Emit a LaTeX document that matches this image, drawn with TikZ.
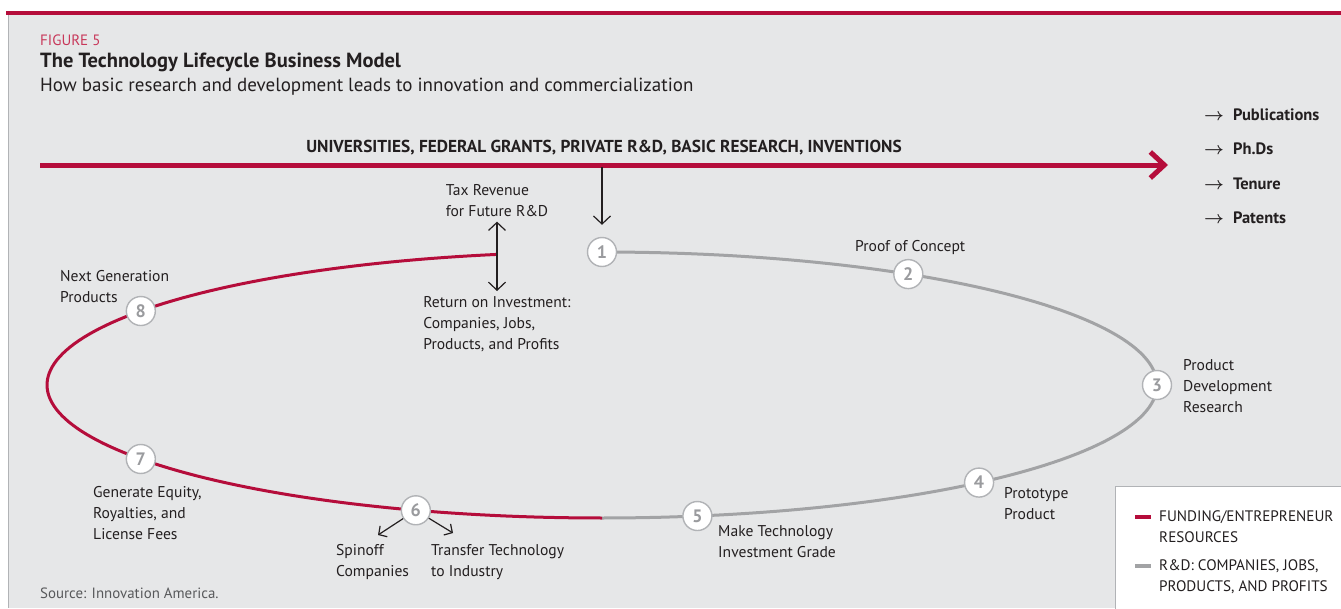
\documentclass[tikz,border=0pt]{standalone}
\usepackage{bm}
\usepackage{fontspec}
\setmainfont{PT Sans}
\usetikzlibrary{arrows.meta, positioning}

\definecolor{bandred}{HTML}{B50D3B}
\definecolor{figred}{HTML}{C8385A}
\definecolor{panel}{HTML}{E6E7E8}
\definecolor{rimgray}{HTML}{B1B3B6}
\definecolor{loopgray}{HTML}{A2A3A5}
\definecolor{numgray}{HTML}{9A9B9E}
\definecolor{ink}{HTML}{231F20}
\definecolor{srcgray}{HTML}{58595B}

\begin{document}
\begin{tikzpicture}[x=1pt, y=-1pt,
    num/.style={draw=rimgray, line width=1.4pt, fill=white, circle, minimum size=29pt, inner sep=0pt, text=numgray, font=\fontsize{18}{18}\selectfont\bfseries},
    lbl/.style={anchor=north west, align=left, inner sep=0pt, text=ink, font=\fontsize{15.6}{21}\selectfont},
    lst/.style={anchor=west, inner sep=0pt, text=ink, font=\fontsize{16.5}{16.5}\selectfont\bfseries},
    leg/.style={anchor=north west, align=left, inner sep=0pt, text=ink, font=\fontsize{15.2}{21}\selectfont},
    ptr/.style={draw=ink, line width=1.2pt, -{Straight Barb[length=8pt, width=17pt]}}]
        \useasboundingbox (0,0) rectangle (1341,608);
        % panel
        \fill[panel] (8,15) rectangle (1341,608);
        \draw[rimgray, line width=1pt] (8,15) -- (8,608);
        \draw[bandred, line width=4pt] (6,13) -- (1341,13);

        % heading
        \node[anchor=west, inner sep=0pt, text=figred, font=\fontsize{15}{15}\selectfont] (fig) at (40,40) {FIGURE 5};
        \node[anchor=west, inner sep=0pt, text=ink, font=\fontsize{20.5}{20.5}\selectfont\bfseries] (title) at (40,62) {The Technology Lifecycle Business Model};
        \node[anchor=west, inner sep=0pt, text=ink, font=\fontsize{19}{19}\selectfont] (sub) at (40,87) {How basic research and development leads to innovation and commercialization};

        % research band
        \node[inner sep=0pt, text=ink, font=\fontsize{17.3}{17.3}\selectfont\bfseries] (univ) at (604,148) {UNIVERSITIES, FEDERAL GRANTS, PRIVATE R\&D, BASIC RESEARCH, INVENTIONS};
        \coordinate (bandstart) at (40,165);
        \coordinate (bandend) at (1168,165);
        \coordinate (drop) at (602,167);
        \draw[bandred, line width=5pt, -{Straight Barb[length=14pt, width=26pt]}] (bandstart) -- (bandend);

        \node[lst] (pub) at (1204,115) {$\bm{\rightarrow}$\hspace{9pt}Publications};
        \node[lst] (phd) at (1204,149) {$\bm{\rightarrow}$\hspace{9pt}Ph.Ds};
        \node[lst] (ten) at (1204,184) {$\bm{\rightarrow}$\hspace{9pt}Tenure};
        \node[lst] (pat) at (1204,218) {$\bm{\rightarrow}$\hspace{9pt}Patents};

        % the loop
        \draw[loopgray, line width=3pt] plot[domain=-90:90, samples=120] ({602+555*cos(\x)},{385-133*sin(\x)});
        \draw[bandred, line width=3pt] plot[domain=100.9:270, samples=120] ({602+555*cos(\x)},{385-133*sin(\x)});

        \node[num] (one) at ({602+555*cos(90)},{385-133*sin(90)}) {1};
        \node[num] (two) at ({602+555*cos(56.5)},{385-133*sin(56.5)}) {2};
        \node[num] (three) at ({602+555*cos(0)},{385-133*sin(0)}) {3};
        \node[num] (four) at ({602+555*cos(-47.2)},{385-133*sin(-47.2)}) {4};
        \node[num] (five) at ({602+555*cos(-80.1)},{385-133*sin(-80.1)}) {5};
        \node[num] (six) at ({602+555*cos(-109.6)},{385-133*sin(-109.6)}) {6};
        \node[num] (seven) at ({602+555*cos(-146.2)},{385-133*sin(-146.2)}) {7};
        \node[num] (eight) at ({602+555*cos(146.2)},{385-133*sin(146.2)}) {8};

        % labels
        \node[lbl, anchor=north] (tax) at (497,184) {Tax Revenue\\for Future R\&D};
        \node[lbl, anchor=north] (ret) at (497,296) {Return on Investment:\\Companies, Jobs,\\Products, and Profits};
        \node[lbl] (proof) at (855,240) {Proof of Concept};
        \node[lbl] (pdr) at (1183,359) {Product\\Development\\Research};
        \node[lbl] (proto) at (1004,487) {Prototype\\Product};
        \node[lbl] (grade) at (718,525) {Make Technology\\Investment Grade};
        \node[lbl] (spin) at (336,544) {Spinoff\\Companies};
        \node[lbl] (transfer) at (431,544) {Transfer Technology\\to Industry};
        \node[lbl] (equity) at (93,486) {Generate Equity,\\Royalties, and\\License Fees};
        \node[lbl] (next) at (60,270) {Next Generation\\Products};

        \coordinate (spinend) at (378,535);
        \coordinate (transend) at (453,533);
        \draw[ptr, shorten >=12pt] (drop) -- (one);
        \draw[ptr, {Straight Barb[length=8pt, width=17pt]}-{Straight Barb[length=8pt, width=17pt]}, shorten <=5pt, shorten >=5pt] (tax.south) -- (ret.north);
        \draw[ptr, -{Straight Barb[length=6pt, width=13pt]}] (six) -- (spinend);
        \draw[ptr, -{Straight Barb[length=6pt, width=13pt]}] (six) -- (transend);

        \node[anchor=west, inner sep=0pt, text=srcgray, font=\fontsize{14.9}{14.9}\selectfont] (src) at (40,593) {Source: Innovation America.};

        % legend
        \node[draw=rimgray, line width=1.2pt, fill=white, anchor=north west, minimum width=240pt, minimum height=130pt, inner sep=0pt] (legend) at (1115,486) {};
        \node[leg] (fund) at (1159,510) {FUNDING/ENTREPRENEUR\\RESOURCES};
        \node[leg] (rnd) at (1159,559) {R\&D: COMPANIES, JOBS,\\PRODUCTS, AND PROFITS};
        \draw[bandred, line width=4pt] (1135,517) -- (1151,517);
        \draw[loopgray, line width=4pt] (1135,566) -- (1151,566);
    \end{tikzpicture}
\end{document}
